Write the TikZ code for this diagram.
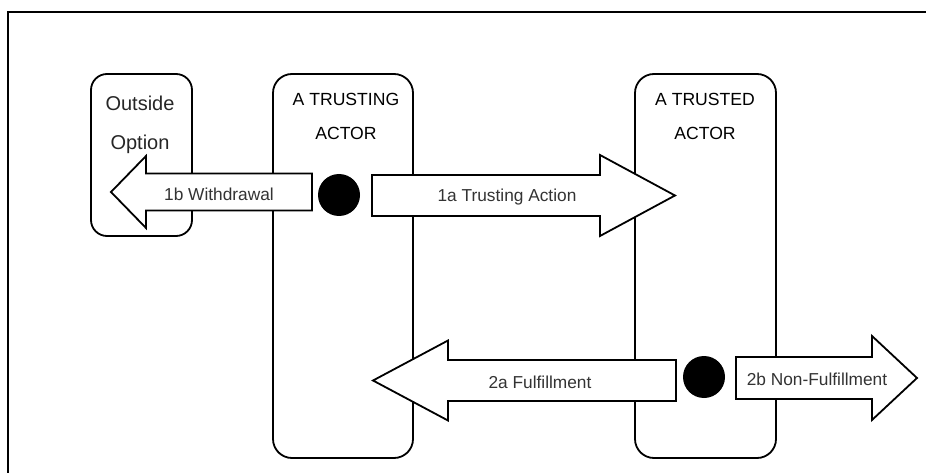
\documentclass[tikz,border=0pt]{standalone}
\usepackage{fontspec}
\setmainfont{Liberation Sans}
\begin{document}
\begin{tikzpicture}[x=1pt,y=-1pt,
  line join=miter,
  frameline/.style={line width=2pt},
  actorbox/.style={draw, line width=1.8pt, rounded corners=19pt},
  blockarrow/.style={draw, fill=white, line width=1.8pt},
  decision/.style={circle, fill=black, minimum size=42pt, inner sep=0pt},
  boxlabel/.style={font=\fontsize{17.6}{21}\selectfont, text=black, align=center},
  optlabel/.style={font=\fontsize{20}{24}\selectfont, text=black!85},
  arrowlabel/.style={font=\fontsize{17.3}{20}\selectfont, text=black!80}]
\useasboundingbox (0,0) rectangle (926,473);
\clip (0,0) rectangle (926,473);

% outer frame, running past the right and bottom edges
\draw[frameline] (8,12) rectangle (960,500);

% actors and the outside option
\draw[actorbox, rounded corners=16pt] (91,74) rectangle (192,236);
\draw[actorbox] (273,74) rectangle (413,458);
\draw[actorbox] (635,74) rectangle (776,458);

\node[optlabel] (outside) at (140,103) {Outside};
\node[optlabel] (option)  at (140,144) {Option};
\node[boxlabel] (trusting) at (346,99) {A TRUSTING};
\node[boxlabel] (trustingb) at (346,133) {ACTOR};
\node[boxlabel] (trusted) at (705,99) {A TRUSTED};
\node[boxlabel] (trustedb) at (705,133) {ACTOR};

% block arrows: tail x, head-base x, tip x, centre y, half shaft, half head
\newcommand{\blockarr}[6]{%
  \draw[blockarrow] (#1,#4-#5) -- (#2,#4-#5) -- (#2,#4-#6) -- (#3,#4)
    -- (#2,#4+#6) -- (#2,#4+#5) -- (#1,#4+#5) -- cycle;}

\blockarr{312}{146}{111}{192}{18.5}{36}
\blockarr{372}{600}{675}{195.5}{20.5}{40.5}
\blockarr{676}{448}{373}{380.5}{20.5}{40}
\blockarr{736}{872}{917}{378}{21}{42}

\node[arrowlabel] (withdrawal) at (219,194) {1b Withdrawal};
\node[arrowlabel] (action) at (507,197) {1a Trusting Action};
\node[arrowlabel] (fulfil) at (540,382) {2a Fulfillment};
\node[arrowlabel] (nonfulfil) at (817,379) {2b Non-Fulfillment};

% decision points
\node[decision] (choice1) at (339,195) {};
\node[decision] (choice2) at (704,377) {};
\end{tikzpicture}
\end{document}
